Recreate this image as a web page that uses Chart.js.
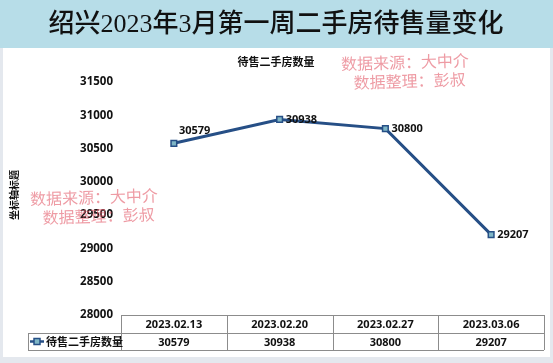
<!DOCTYPE html>
<html>
<head>
<meta charset="utf-8">
<script src="https://cdn.jsdelivr.net/npm/chart.js@4/dist/chart.umd.min.js"></script>
<style>
  html, body { margin: 0; padding: 0; background: #fff; }
  #wrap { position: relative; width: 553px; height: 363px; }
</style>
</head>
<body>
<div id="wrap"><canvas id="chart" width="553" height="363"></canvas></div>
<script>
// 数据
const weeks = ["2023.02.13", "2023.02.20", "2023.02.27", "2023.03.06"];
const listings = [30579, 30938, 30800, 29207];
const seriesName = "待售二手房数量";
const yTicks = [28000, 28500, 29000, 29500, 30000, 30500, 31000, 31500];

const mainTitle = "绍兴2023年3月第一周二手房待售量变化";
const yTitle = "坐标轴标题";
const watermark = ["数据来源：大中介", "数据整理：彭叔"];

const lineColor = "#264f86";
const markerFill = "#7fb6c6";
const gridColor = "#8c8c8c";
const sans = "'Open Sans', 'Noto Sans CJK SC', sans-serif";

// 背景、标题、表格、水印
const decorPlugin = {
  id: "decor",
  beforeDraw(chart) {
    const ctx = chart.ctx;
    ctx.save();
    ctx.fillStyle = "#ffffff";
    ctx.fillRect(0, 0, chart.width, chart.height);
    // 外框
    ctx.fillStyle = "#e4e8ee";
    ctx.fillRect(0, 0, 3, chart.height);
    ctx.fillRect(0, chart.height - 6, chart.width, 6);
    ctx.fillRect(chart.width - 3, 0, 3, chart.height);
    // 标题栏
    ctx.fillStyle = "#b7dde8";
    ctx.fillRect(0, 0, chart.width, 48);
    ctx.fillStyle = "#111";
    ctx.font = "500 26px 'Liberation Serif', 'Noto Sans CJK SC', serif";
    ctx.textAlign = "center";
    ctx.textBaseline = "middle";
    ctx.fillText(mainTitle, 276, 25);
    // 图表标题
    ctx.font = "bold 11px " + sans;
    ctx.fillText(seriesName, 276, 63);
    // 纵轴标题
    ctx.translate(15, 195);
    ctx.rotate(-Math.PI / 2);
    ctx.font = "bold 10px " + sans;
    ctx.fillText(yTitle, 0, 0);
    ctx.restore();
  },
  afterDatasetsDraw(chart) {
    const ctx = chart.ctx;
    const x = chart.scales.x;
    const area = chart.chartArea;
    const meta = chart.getDatasetMeta(0);
    ctx.save();

    // 数据标签
    ctx.fillStyle = "#111";
    ctx.font = "bold 11px " + sans;
    ctx.textBaseline = "middle";
    ctx.textAlign = "left";
    meta.data.forEach((pt, i) => {
      const dx = i === 0 ? 5 : 6;
      const dy = i === 0 ? -12 : 0;
      ctx.fillText(String(listings[i]), pt.x + dx, pt.y + dy);
    });

    // 数据表
    const top = area.bottom;
    const mid = 333;
    const bottom = 350;
    const left = area.left;
    const right = area.right;
    const legendLeft = 28;
    const step = (right - left) / weeks.length;
    ctx.strokeStyle = gridColor;
    ctx.lineWidth = 1;
    ctx.beginPath();
    ctx.moveTo(left, top + 0.5); ctx.lineTo(right, top + 0.5);
    ctx.moveTo(legendLeft, mid + 0.5); ctx.lineTo(right, mid + 0.5);
    ctx.moveTo(legendLeft, bottom + 0.5); ctx.lineTo(right, bottom + 0.5);
    ctx.moveTo(legendLeft + 0.5, mid); ctx.lineTo(legendLeft + 0.5, bottom);
    for (let i = 0; i <= weeks.length; i++) {
      const gx = Math.round(left + i * step) + 0.5;
      ctx.moveTo(gx, top); ctx.lineTo(gx, bottom);
    }
    ctx.stroke();

    ctx.textAlign = "center";
    ctx.font = "bold 11px " + sans;
    weeks.forEach((w, i) => {
      const cx = x.getPixelForValue(i);
      ctx.fillText(w, cx, (top + mid) / 2 + 1);
      ctx.fillText(String(listings[i]), cx, (mid + bottom) / 2 + 1);
    });

    // 图例
    const ly = (mid + bottom) / 2;
    ctx.strokeStyle = lineColor;
    ctx.lineWidth = 2.5;
    ctx.beginPath();
    ctx.moveTo(legendLeft + 2, ly); ctx.lineTo(legendLeft + 16, ly);
    ctx.stroke();
    ctx.fillStyle = markerFill;
    ctx.lineWidth = 1.5;
    ctx.fillRect(legendLeft + 6, ly - 3, 6, 6);
    ctx.strokeRect(legendLeft + 6, ly - 3, 6, 6);
    ctx.fillStyle = "#111";
    ctx.textAlign = "left";
    ctx.fillText(seriesName, legendLeft + 18, ly + 1);

    // 水印
    ctx.fillStyle = "rgba(226, 88, 104, 0.6)";
    ctx.font = "16px 'Liberation Serif', 'Noto Sans CJK SC', serif";
    ctx.textAlign = "center";
    const marks = [[405, 64], [94, 199]];
    marks.forEach(([mx, my]) => {
      ctx.save();
      ctx.translate(mx, my);
      ctx.rotate(-0.03);
      ctx.fillText(watermark[0], 0, 0);
      ctx.fillText(watermark[1], 4, 19);
      ctx.restore();
    });
    ctx.restore();
  }
};

new Chart(document.getElementById("chart"), {
  type: "line",
  data: {
    labels: weeks,
    datasets: [{
      label: seriesName,
      data: listings,
      borderColor: lineColor,
      borderWidth: 3,
      pointStyle: "rect",
      pointRadius: 4,
      pointBackgroundColor: markerFill,
      pointBorderColor: lineColor,
      pointBorderWidth: 1.5,
      tension: 0
    }]
  },
  options: {
    responsive: false,
    animation: false,
    layout: { padding: { top: 82, right: 9, bottom: 48, left: 0 } },
    plugins: {
      legend: { display: false },
      title: { display: false },
      tooltip: { enabled: false }
    },
    scales: {
      x: {
        type: "category",
        offset: true,
        display: false
      },
      y: {
        min: 28000,
        max: 31500,
        afterFit(scale) { scale.width = 121; },
        afterBuildTicks(scale) { scale.ticks = yTicks.map(v => ({ value: v })); },
        grid: { display: false },
        border: { display: false },
        ticks: {
          color: "#111",
          padding: 0,
          callback: (v) => String(v),
          font: { family: "'Open Sans', sans-serif", size: 11.5, weight: "bold" }
        }
      }
    }
  },
  plugins: [decorPlugin]
});
</script>
</body>
</html>
